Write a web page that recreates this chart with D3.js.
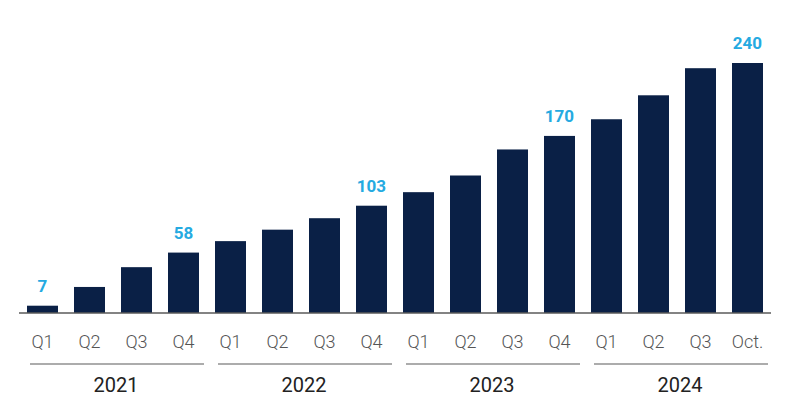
<!DOCTYPE html>
<html>
<head>
<meta charset="utf-8">
<script src="https://cdn.jsdelivr.net/npm/d3@7/dist/d3.min.js"></script>
<style>
  html, body { margin: 0; padding: 0; background: #ffffff; }
  svg { display: block; }
</style>
</head>
<body>
<div id="chart"></div>
<script>
// Quarterly series, 2021 through October 2024
const years = ["2021", "2022", "2023", "2024"];
const periods = ["Q1", "Q2", "Q3", "Q4", "Q1", "Q2", "Q3", "Q4",
                 "Q1", "Q2", "Q3", "Q4", "Q1", "Q2", "Q3", "Oct."];
const values = [7, 25, 44, 58, 69, 80, 91, 103,
                116, 132, 157, 170, 186, 209, 235, 240];
// Bars whose value is printed above them (index into periods/values)
const labelledBars = [0, 3, 7, 11, 15];

const width = 785, height = 398;
const barColor = "#0a2046";
const labelColor = "#25aae1";

const svg = d3.select("#chart").append("svg")
  .attr("width", width).attr("height", height);

const idx = d3.range(values.length);

const x = d3.scaleBand()
  .domain(idx)
  .range([19, 771])
  .paddingInner(16 / 47)
  .paddingOuter(8 / 47);

const y = d3.scaleLinear()
  .domain([0, 240])
  .range([313, 63]);

// Bars
svg.append("g").selectAll("rect")
  .data(idx)
  .join("rect")
  .attr("x", i => x(i))
  .attr("y", i => y(values[i]))
  .attr("width", x.bandwidth())
  .attr("height", i => y(0) - y(values[i]))
  .attr("fill", barColor);

// Baseline
svg.append("line")
  .attr("x1", x.range()[0]).attr("x2", x.range()[1])
  .attr("y1", y(0)).attr("y2", y(0))
  .attr("stroke", "#5a5a5a").attr("stroke-width", 1.5);

// Value labels
svg.append("g").selectAll("text")
  .data(labelledBars)
  .join("text")
  .attr("x", i => x(i) + x.bandwidth() / 2)
  .attr("y", i => y(values[i]) - 14)
  .attr("text-anchor", "middle")
  .attr("font-family", "Roboto, 'Liberation Sans', sans-serif")
  .attr("font-weight", 700)
  .attr("font-size", 17)
  .attr("fill", labelColor)
  .text(i => values[i]);

// Period labels
svg.append("g").selectAll("text")
  .data(idx)
  .join("text")
  .attr("x", i => x(i) + x.bandwidth() / 2)
  .attr("y", 348)
  .attr("text-anchor", "middle")
  .attr("font-family", "Roboto, 'Liberation Sans', sans-serif")
  .attr("font-weight", 300)
  .attr("font-size", 18)
  .attr("fill", "#555555")
  .text(i => periods[i]);

// Year groups: underline and label
const groups = years.map((yr, g) => {
  const members = idx.filter(i => Math.floor(i / 4) === g);
  return { yr, first: members[0], last: members[members.length - 1] };
});

const yearG = svg.append("g");
yearG.selectAll("line")
  .data(groups)
  .join("line")
  .attr("x1", d => x(d.first) + 3)
  .attr("x2", d => x(d.last) + x.bandwidth() + 5)
  .attr("y1", 364).attr("y2", 364)
  .attr("stroke", "#5a5a5a").attr("stroke-width", 1.2);

yearG.selectAll("text")
  .data(groups)
  .join("text")
  .attr("x", d => (x(d.first) + x(d.last) + x.bandwidth()) / 2 + 3)
  .attr("y", 392)
  .attr("text-anchor", "middle")
  .attr("font-family", "Roboto, 'Liberation Sans', sans-serif")
  .attr("font-weight", 400)
  .attr("font-size", 20)
  .attr("fill", "#222222")
  .text(d => d.yr);
</script>
</body>
</html>
